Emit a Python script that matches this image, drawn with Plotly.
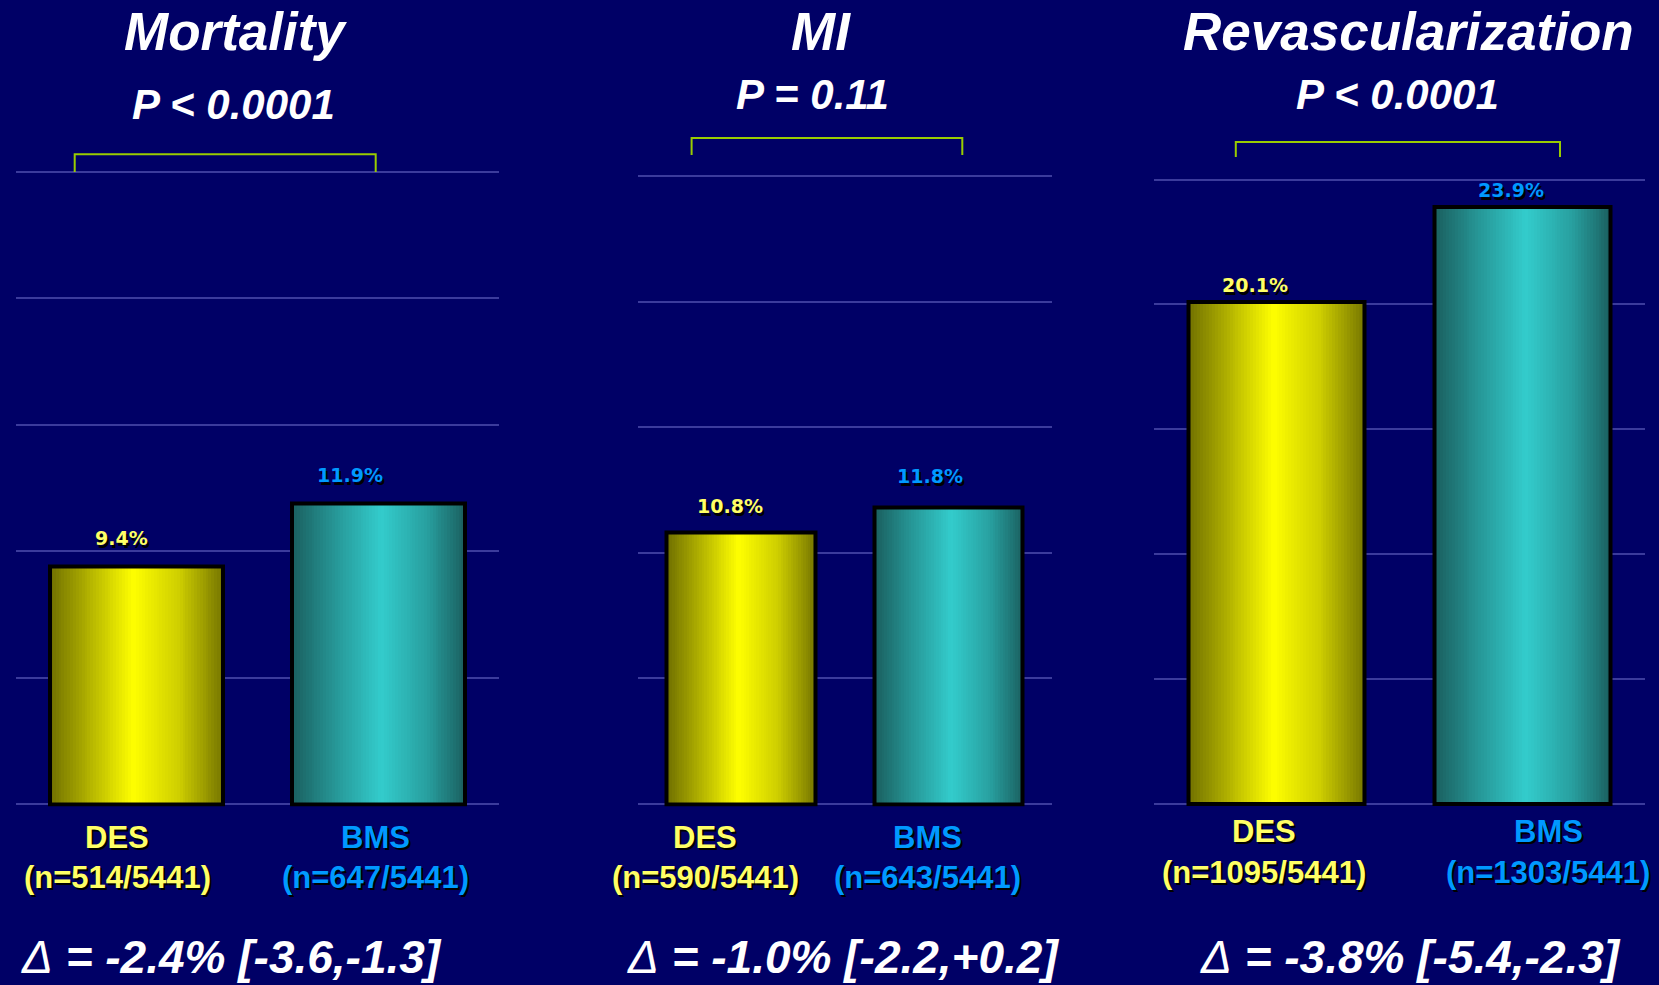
import plotly.graph_objects as go

# ---- data -------------------------------------------------------------
panels = ["Mortality", "MI", "Revascularization"]
p_values = ["P < 0.0001", "P = 0.11", "P < 0.0001"]
groups = ["DES", "BMS"]
des_rates = [9.4, 10.8, 20.1]
bms_rates = [11.9, 11.8, 23.9]
des_counts = ["514/5441", "590/5441", "1095/5441"]
bms_counts = ["647/5441", "643/5441", "1303/5441"]
deltas = ["-2.4%", "-1.0%", "-3.8%"]
conf_ints = ["[-3.6,-1.3]", "[-2.2,+0.2]", "[-5.4,-2.3]"]
y_ticks = [0, 5, 10, 15, 20, 25]

# ---- layout geometry (pixels on a 1659 x 985 canvas) --------------------
W, H = 1659, 985
BASE = 804
Y_PAD = 0.1          # small padding so the 0 and 25 grid lines are drawn
geo = [
    dict(x0=16, x1=499, top=172.0,
         title_x=236, p_x=233, p_y=104,
         br=(74.7, 375.7, 154.3, 172), lab_x=(117, 375), lab_y=(837, 877),
         val_dx=(-15, -28), val_dy=(15, 15), delta_x=231),
    dict(x0=637.5, x1=1051.8, top=176.0,
         title_x=821, p_x=812, p_y=95,
         br=(691.6, 962.3, 138, 155), lab_x=(705, 927), lab_y=(837, 877),
         val_dx=(-11, -18), val_dy=(14, 19), delta_x=843),
    dict(x0=1153.5, x1=1645, top=179.5,
         title_x=1408, p_x=1397, p_y=95,
         br=(1235.8, 1560, 142, 157), lab_x=(1264, 1548), lab_y=(831, 872),
         val_dx=(-21, -11), val_dy=(4, 4), delta_x=1410),
]

BG = "#000066"
GRID = "#3b3b9c"
DES_TXT = "#ffff66"
BMS_TXT = "#0099ff"
BAR_W = 0.716
N_SLICES = 60

# horizontal shading of each bar: dark edges, bright centre
des_stops = [(0.0, (112, 112, 0)), (0.2, (170, 170, 0)), (0.48, (255, 255, 0)),
             (0.75, (205, 205, 0)), (1.0, (118, 118, 0))]
bms_stops = [(0.0, (26, 94, 94)), (0.25, (38, 150, 150)), (0.52, (51, 204, 204)),
             (0.78, (40, 160, 160)), (1.0, (26, 96, 96))]


def shade(stops, t):
    for (a, ca), (b, cb) in zip(stops, stops[1:]):
        if a <= t <= b:
            f = (t - a) / (b - a)
            c = [round(ca[i] + (cb[i] - ca[i]) * f) for i in range(3)]
            return f"rgb({c[0]},{c[1]},{c[2]})"
    c = stops[-1][1]
    return f"rgb({c[0]},{c[1]},{c[2]})"


def px(x):
    return x / W


def py(y):
    return 1 - y / H


FONT = "Liberation Sans, Arial, sans-serif"
VFONT = "DejaVu Sans, Verdana, sans-serif"

fig = go.Figure()
annotations = []
shapes = []

for p in range(3):
    g = geo[p]
    ax = "" if p == 0 else str(p + 1)
    xa, ya = "x" + ax, "y" + ax
    values = [des_rates[p], bms_rates[p]]

    # shaded fill: thin slices across each bar
    for i, (v, stops) in enumerate(zip(values, [des_stops, bms_stops])):
        xs, ys, cols = [], [], []
        for k in range(N_SLICES):
            t = (k + 0.5) / N_SLICES
            xs.append(i - BAR_W / 2 + t * BAR_W)
            ys.append(v)
            cols.append(shade(stops, t))
        fig.add_trace(go.Bar(
            x=xs, y=ys, width=BAR_W / N_SLICES * 1.25,
            marker=dict(color=cols, line=dict(width=0)),
            xaxis=xa, yaxis=ya, showlegend=False, hoverinfo="skip"))

    # bar outlines carrying the values
    fig.add_trace(go.Bar(
        x=[0, 1], y=values, width=BAR_W,
        marker=dict(color="rgba(0,0,0,0)", line=dict(color="black", width=4)),
        xaxis=xa, yaxis=ya, showlegend=False,
        customdata=groups, hovertemplate="%{customdata}: %{y}%<extra></extra>"))

    # y pixel scale for the padded range
    unit = (BASE - g["top"]) / 25.0
    layout_x = dict(domain=[px(g["x0"]), px(g["x1"])], range=[-0.5, 1.5],
                    showgrid=False, zeroline=False, showticklabels=False,
                    showline=False, fixedrange=True)
    layout_y = dict(domain=[py(BASE + Y_PAD * unit), py(g["top"] - Y_PAD * unit)],
                    range=[-Y_PAD, 25 + Y_PAD],
                    tickvals=y_ticks, showgrid=True, gridcolor=GRID, gridwidth=2,
                    zeroline=False, showticklabels=False, showline=False,
                    fixedrange=True)
    if p > 0:
        layout_x["anchor"] = ya
        layout_y["anchor"] = xa
    fig.update_layout(**{"xaxis" + ax: layout_x, "yaxis" + ax: layout_y})

    # value labels above bars (with drop shadow)
    for i, (v, col) in enumerate(zip(values, [DES_TXT, BMS_TXT])):
        for dx, dy, c in [(2, -3, "black"), (0, 0, col)]:
            annotations.append(dict(
                x=i, y=v, xref=xa, yref=ya, text=f"<b>{v}%</b>",
                showarrow=False, yanchor="bottom",
                xshift=g["val_dx"][i] + dx, yshift=g["val_dy"][i] + dy,
                font=dict(family=VFONT, size=19, color=c)))

    # titles
    annotations.append(dict(
        x=px(g["title_x"]), y=py(31.5), xref="paper", yref="paper",
        text=f"<b><i>{panels[p]}</i></b>", showarrow=False,
        font=dict(family=FONT, size=53, color="white"),
        xanchor="center", yanchor="middle"))
    annotations.append(dict(
        x=px(g["p_x"]), y=py(g["p_y"]), xref="paper", yref="paper",
        text=f"<b><i>{p_values[p]}</i></b>", showarrow=False,
        font=dict(family=FONT, size=42, color="white"),
        xanchor="center", yanchor="middle"))

    # significance bracket
    bx0, bx1, by0, by1 = g["br"]
    shapes.append(dict(
        type="path", xref="paper", yref="paper",
        path=(f"M {px(bx0)},{py(by1)} L {px(bx0)},{py(by0)} "
              f"L {px(bx1)},{py(by0)} L {px(bx1)},{py(by1)}"),
        line=dict(color="#99cc00", width=2)))

    # group labels below bars
    counts = [des_counts[p], bms_counts[p]]
    for i, (grp, col) in enumerate(zip(groups, [DES_TXT, BMS_TXT])):
        for line_txt, yy in [(grp, g["lab_y"][0]), (f"(n={counts[i]})", g["lab_y"][1])]:
            for dx, dy, c in [(2, -2, "black"), (0, 0, col)]:
                annotations.append(dict(
                    x=px(g["lab_x"][i]), y=py(yy), xref="paper", yref="paper",
                    text=f"<b>{line_txt}</b>", showarrow=False,
                    xshift=dx, yshift=dy, xanchor="center", yanchor="middle",
                    font=dict(family=FONT, size=31, color=c)))

    # absolute difference with confidence interval
    annotations.append(dict(
        x=px(g["delta_x"]), y=0, xref="paper", yref="paper",
        text=(f"<b><i><span style='font-weight:normal'>\u0394</span>"
              f" = {deltas[p]} {conf_ints[p]}</i></b>"),
        showarrow=False, xanchor="center", yanchor="bottom",
        font=dict(family=FONT, size=46, color="white")))

fig.update_layout(
    width=W, height=H,
    margin=dict(l=0, r=0, t=0, b=0),
    paper_bgcolor=BG, plot_bgcolor=BG,
    barmode="overlay", bargap=0,
    annotations=annotations, shapes=shapes,
    showlegend=False,
)

fig.write_html("out.html")
